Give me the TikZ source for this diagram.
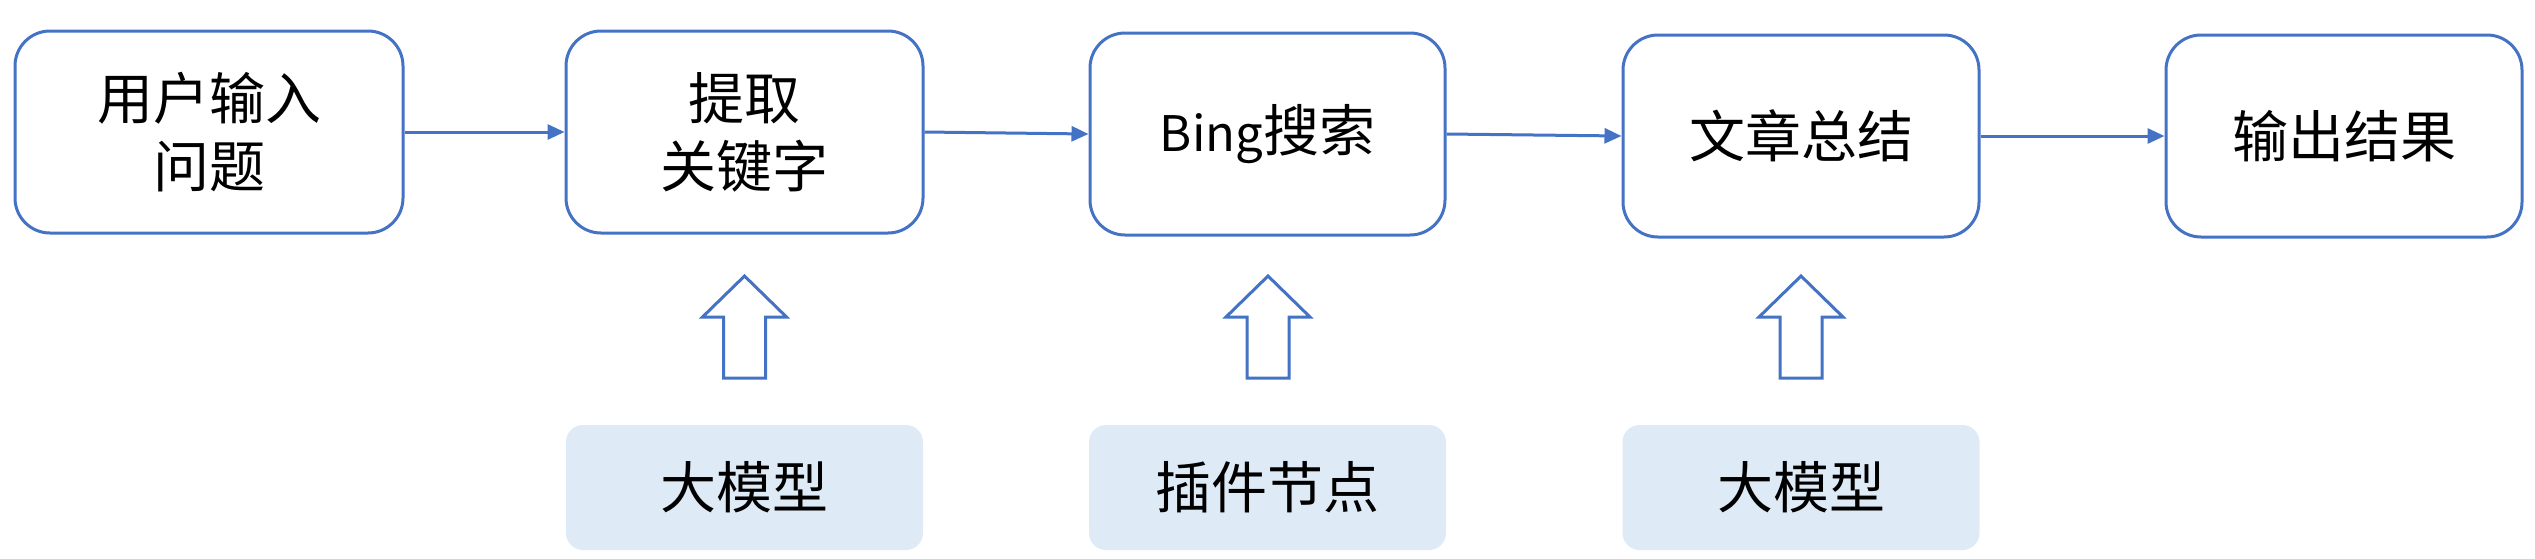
\documentclass[tikz,border=0pt]{standalone}
\usepackage{fontspec}
\setmainfont{Noto Sans CJK SC}
\usetikzlibrary{arrows.meta}
\definecolor{lineblue}{HTML}{4472C4}
\definecolor{fillblue}{HTML}{DEEBF7}
\begin{document}
\begin{tikzpicture}[x=1pt,y=-1pt,
  proc/.style={draw=lineblue, line width=3pt, rounded corners=35pt, minimum height=202pt, align=center, inner sep=0pt, font=\fontsize{56}{68}\selectfont},
  tag/.style={fill=fillblue, rounded corners=17pt, minimum width=357pt, minimum height=125pt, inner sep=0pt, font=\fontsize{56}{68}\selectfont},
  flow/.style={draw=lineblue, line width=3pt, -{Triangle[length=17pt,width=15pt]}},
  blockarrow/.style={draw=lineblue, line width=3pt, fill=white, line join=miter}
]
\useasboundingbox (0,0) rectangle (2535,558);
\node[proc, minimum width=388pt] (a) at (209,132) {用户输入\\问题};
\node[proc, minimum width=357pt] (b) at (744.5,132) {提取\\关键字};
\node[proc, minimum width=355pt] (c) at (1267.5,134) {{\fontsize{49}{60}\selectfont Bing}搜索};
\node[proc, minimum width=356pt] (d) at (1801,136) {文章总结};
\node[proc, minimum width=356pt] (e) at (2344,136) {输出结果};
\draw[flow] (a.east) -- (b.west);
\draw[flow] (b.east) -- (c.west);
\draw[flow] (c.east) -- (d.west);
\draw[flow] (d.east) -- (e.west);
\node[tag] (t1) at (744.5,487.5) {大模型};
\node[tag] (t2) at (1267.5,487.5) {插件节点};
\node[tag] (t3) at (1801,487.5) {大模型};
\coordinate (u1) at (744.5,378);
\coordinate (u2) at (1268,378);
\coordinate (u3) at (1801,378);
\foreach \u in {u1,u2,u3}{
  \draw[blockarrow] (\u) ++(-21,0) -- ++(0,-61) -- ++(-21,0) -- ++(42,-41) -- ++(42,41) -- ++(-21,0) -- ++(0,61) -- cycle;
}
\end{tikzpicture}
\end{document}
